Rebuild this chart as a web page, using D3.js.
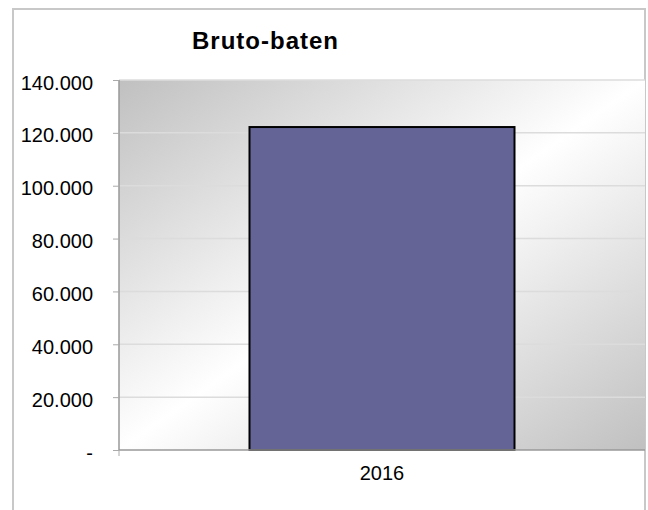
<!DOCTYPE html>
<html><head><meta charset="utf-8">
<script src="https://cdn.jsdelivr.net/npm/d3@7"></script>
<style>body{margin:0;background:#fff;}svg{display:block;font-family:"Liberation Sans",Arial,sans-serif;}</style>
</head><body>
<svg id="c" width="648" height="510"></svg>
<script>
const title = "Bruto-baten";
const categories = ["2016"];
const values = [122200];
const yTicks = [0, 20000, 40000, 60000, 80000, 100000, 120000, 140000];

const svg = d3.select("#c");
const W = 648, H = 510;
const m = {left: 119, right: 3, top: 80, bottom: 60};
const pw = W - m.left - m.right, ph = H - m.top - m.bottom;

// outer frame
svg.append("rect").attr("x", 13).attr("y", 9).attr("width", 632).attr("height", 520)
  .attr("fill", "#fff").attr("stroke", "#c8c8c8").attr("stroke-width", 2);

const defs = svg.append("defs");
const g1 = defs.append("linearGradient").attr("id", "bg")
  .attr("x1", "0%").attr("y1", "0%").attr("x2", "100%").attr("y2", "100%");
g1.append("stop").attr("offset", "0%").attr("stop-color", "#c0c0c0");
g1.append("stop").attr("offset", "50%").attr("stop-color", "#ffffff");
g1.append("stop").attr("offset", "100%").attr("stop-color", "#c0c0c0");

const x = d3.scaleBand().domain(categories).range([m.left, m.left + pw]).paddingInner(0).paddingOuter(0.25);
const y = d3.scaleLinear().domain([0, 140000]).range([m.top + ph, m.top]);

svg.append("rect").attr("x", m.left).attr("y", m.top).attr("width", pw).attr("height", ph)
  .attr("fill", "url(#bg)");

// gridlines
svg.append("g").selectAll("line").data(yTicks.filter(d => d > 0)).join("line")
  .attr("x1", m.left).attr("x2", m.left + pw)
  .attr("y1", d => y(d)).attr("y2", d => y(d))
  .attr("stroke", "#dcdcdc").attr("stroke-width", 1.5);

// bars
const bw = 265;
svg.append("g").selectAll("rect").data(values).join("rect")
  .attr("x", (d, i) => x(categories[i]) + x.bandwidth() / 2 - bw / 2)
  .attr("width", bw)
  .attr("y", d => y(d))
  .attr("height", d => y(0) - y(d))
  .attr("fill", "#646496").attr("stroke", "#000").attr("stroke-width", 2);

// y axis
const fmt = d => d === 0 ? "-" : d3.format(",.0f")(d).replace(/,/g, ".");
const ya = svg.append("g").attr("transform", `translate(${m.left},0)`)
  .call(d3.axisLeft(y).tickValues(yTicks).tickFormat(fmt).tickSize(6).tickPadding(20));
ya.select(".domain").attr("stroke", "#999").attr("stroke-width", 1.5).attr("d", `M-0,${m.top}V${m.top+ph}`);
ya.selectAll(".tick line").attr("stroke", "#aaa");
ya.selectAll(".tick text").attr("font-size", 20).attr("fill", "#000").attr("dy", "0.45em")
  .attr("font-family", "Liberation Sans, Arial, sans-serif");

// x axis
const xa = svg.append("g").attr("transform", `translate(0,${m.top + ph})`)
  .call(d3.axisBottom(x).tickSize(0).tickPadding(16));
xa.select(".domain").attr("stroke", "#999").attr("stroke-width", 1.5)
  .attr("d", `M${m.left},0H${m.left+pw}`);
xa.selectAll(".tick text").attr("font-size", 20).attr("fill", "#000")
  .attr("font-family", "Liberation Sans, Arial, sans-serif");
svg.append("line").attr("x1", m.left).attr("x2", m.left).attr("y1", m.top + ph).attr("y2", m.top + ph + 6)
  .attr("stroke", "#aaa");

svg.append("text").attr("x", 265.5).attr("y", 49).attr("text-anchor", "middle")
  .attr("font-size", 24).attr("font-weight", "bold").attr("letter-spacing", 1).text(title);
</script>
</body></html>
